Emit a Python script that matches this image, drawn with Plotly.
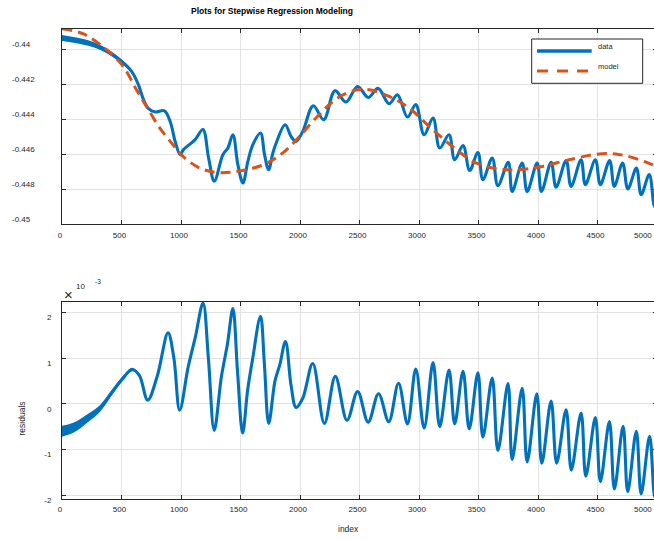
import numpy as np
import plotly.graph_objects as go

# ---------------- data ----------------
# Measured signal (sample index vs. value)
data_idx = [0, 220, 360, 500, 585, 642, 685, 727, 783, 860, 909, 951, 993, 1021, 1119,
            1184, 1232, 1280, 1352, 1394, 1436, 1478, 1520, 1562, 1604, 1668, 1702, 1736,
            1772, 1800, 1875, 1925, 1967, 2023, 2112, 2199, 2294, 2386, 2484, 2573, 2656,
            2749, 2819, 2903, 2973, 3043, 3118, 3174, 3252, 3300, 3370, 3426, 3495, 3537,
            3615, 3663, 3750, 3783, 3867, 3909, 3993, 4029, 4110, 4152, 4236, 4278, 4362,
            4398, 4482, 4524, 4602, 4641, 4711, 4755, 4827, 4867, 4935, 4980, 5000]
data_val = [-0.43937, -0.43966, -0.44004, -0.44071, -0.44128, -0.44204, -0.44290, -0.44341,
            -0.44360, -0.44353, -0.44414, -0.44528, -0.44604, -0.44575, -0.44518, -0.44460,
            -0.44623, -0.44755, -0.44604, -0.44566, -0.44490, -0.44661, -0.44766, -0.44642,
            -0.44547, -0.44480, -0.44604, -0.44690, -0.44594, -0.44537, -0.44433, -0.44500,
            -0.44528, -0.44471, -0.44324, -0.44404, -0.44238, -0.44303, -0.44214, -0.44277,
            -0.44225, -0.44313, -0.44261, -0.44389, -0.44318, -0.44490, -0.44394, -0.44566,
            -0.44490, -0.44633, -0.44551, -0.44694, -0.44591, -0.44747, -0.44623, -0.44781,
            -0.44648, -0.44814, -0.44651, -0.44814, -0.44651, -0.44814, -0.44648, -0.44790,
            -0.44637, -0.44785, -0.44633, -0.44775, -0.44633, -0.44775, -0.44637, -0.44785,
            -0.44651, -0.44800, -0.44680, -0.44833, -0.44718, -0.44900, -0.44880]
# Half-thickness of the noise band on the first samples of the signal
data_noise = [0.00017, 0.00016, 0.00014, 0.00012, 0.00011, 0.00010]

# Stepwise regression model
model_idx = [0, 180, 374, 514, 626, 710, 821, 933, 1017, 1157, 1297, 1436, 1576, 1716,
             1856, 1996, 2140, 2316, 2484, 2584, 2749, 2917, 3085, 3281, 3477, 3673, 3841,
             4037, 4261, 4541, 4738, 4962, 5000]
model_val = [-0.43884, -0.43914, -0.44004, -0.44099, -0.44233, -0.44328, -0.44451, -0.44547,
             -0.44614, -0.44680, -0.44705, -0.44703, -0.44686, -0.44655, -0.44594, -0.44500,
             -0.44390, -0.44280, -0.44233, -0.44233, -0.44271, -0.44337, -0.44442, -0.44557,
             -0.44651, -0.44686, -0.44690, -0.44671, -0.44633, -0.44598, -0.44610, -0.44661,
             -0.44672]

# Residuals (data - model), in units of 1e-3
resid_idx = [0, 100, 220, 320, 420, 500, 590, 650, 720, 800, 891, 940, 989, 1060, 1120,
             1185, 1230, 1279, 1340, 1390, 1436, 1475, 1518, 1560, 1600, 1668, 1700, 1737,
             1790, 1830, 1878, 1925, 1967, 2023, 2107, 2205, 2297, 2395, 2484, 2573, 2660,
             2746, 2828, 2903, 2973, 3043, 3118, 3174, 3252, 3300, 3370, 3422, 3495, 3537,
             3615, 3663, 3748, 3783, 3867, 3909, 3990, 4032, 4110, 4157, 4236, 4280, 4362,
             4402, 4482, 4524, 4600, 4642, 4715, 4754, 4826, 4867, 4938, 4982, 5000]
resid_e3 = [-0.60, -0.52, -0.31, -0.10, 0.25, 0.52, 0.75, 0.62, 0.08, 0.60, 1.55, 1.00,
            -0.14, 0.80, 1.45, 2.20, 1.00, -0.58, 0.60, 1.30, 2.08, 0.70, -0.64, 0.30, 0.95,
            1.91, 0.90, -0.43, 0.50, 0.85, 1.36, 0.40, -0.08, 0.12, 0.88, -0.43, 0.60, -0.36,
            0.27, -0.40, 0.22, -0.39, 0.45, -0.44, 0.76, -0.53, 0.90, -0.50, 0.74, -0.44,
            0.71, -0.55, 0.68, -0.73, 0.56, -1.02, 0.44, -1.22, 0.34, -1.27, 0.22, -1.30,
            0.06, -1.30, -0.13, -1.45, -0.20, -1.58, -0.30, -1.70, -0.39, -1.86, -0.49,
            -1.92, -0.60, -1.97, -0.71, -2.04, -1.92]
# Half-thickness of the noise band on the first residual samples (1e-3)
resid_noise_e3 = [0.12, 0.11, 0.09, 0.075, 0.06, 0.05, 0.04, 0.0]

x_ticks = list(range(0, 5001, 500))
x_tick_labels = [str(v) for v in x_ticks]
top_y_ticks = [-0.45, -0.448, -0.446, -0.444, -0.442, -0.44]
top_y_labels = ["-0.45", "-0.448", "-0.446", "-0.444", "-0.442", "-0.44"]
res_y_ticks_e3 = [-2, -1, 0, 1, 2]

# ---------------- style ----------------
BLUE = "#0072BD"
ORANGE = "#D95319"
AX = "#262626"
GRID = "#e2e2e2"
FONT = "Liberation Sans, Arial, Helvetica, sans-serif"

W, H = 660, 540
L, R, T, B = 62, 3, 29, 41
PW, PH = W - L - R, H - T - B
VIEW_W = 654  # visible page width


def px(xp):
    return (xp - L) / PW


def py(yp):
    return (H - B - yp) / PH


top_dom = [py(224), 1.0]
bot_dom = [0.0, py(302)]

fig = go.Figure()

# ---- upper panel: data and model ----
n1 = len(data_noise)
lo = [v - h for v, h in zip(data_val[:n1], data_noise)]
hi = [v + h for v, h in zip(data_val[:n1], data_noise)]
fig.add_trace(go.Scatter(x=data_idx[:n1], y=lo, mode="lines", line=dict(width=0, shape="spline"),
                         hoverinfo="skip", showlegend=False, xaxis="x", yaxis="y"))
fig.add_trace(go.Scatter(x=data_idx[:n1], y=hi, mode="lines", line=dict(width=0, shape="spline"),
                         fill="tonexty", fillcolor=BLUE, hoverinfo="skip", showlegend=False,
                         xaxis="x", yaxis="y"))
fig.add_trace(go.Scatter(x=data_idx, y=data_val, mode="lines", name="data",
                         line=dict(color=BLUE, width=3.1, shape="spline"),
                         showlegend=False, xaxis="x", yaxis="y"))
fig.add_trace(go.Scatter(x=model_idx, y=model_val, mode="lines", name="model",
                         line=dict(color=ORANGE, width=3, dash="10px,6px", shape="spline"),
                         showlegend=False, xaxis="x", yaxis="y"))

# ---- lower panel: residuals ----
res = np.array(resid_e3) * 1e-3
n2 = len(resid_noise_e3)
rlo = (np.array(resid_e3[:n2]) - np.array(resid_noise_e3)) * 1e-3
rhi = (np.array(resid_e3[:n2]) + np.array(resid_noise_e3)) * 1e-3
fig.add_trace(go.Scatter(x=resid_idx[:n2], y=rlo, mode="lines", line=dict(width=0, shape="spline"),
                         hoverinfo="skip", showlegend=False, xaxis="x2", yaxis="y2"))
fig.add_trace(go.Scatter(x=resid_idx[:n2], y=rhi, mode="lines", line=dict(width=0, shape="spline"),
                         fill="tonexty", fillcolor=BLUE, hoverinfo="skip", showlegend=False,
                         xaxis="x2", yaxis="y2"))
fig.add_trace(go.Scatter(x=resid_idx, y=res, mode="lines", name="residuals",
                         line=dict(color=BLUE, width=3.1, shape="spline"),
                         showlegend=False, xaxis="x2", yaxis="y2"))

axis_common = dict(showline=True, linecolor=AX, linewidth=1, mirror="ticks",
                   ticks="inside", ticklen=4, tickwidth=1, tickcolor=AX,
                   showgrid=True, gridcolor=GRID, gridwidth=1, zeroline=False,
                   tickfont=dict(family=FONT, size=8, color=AX))

# the last x label sits at the page edge; it is drawn separately so it stays readable
shown_x_labels = x_tick_labels[:-1] + [""]

fig.update_layout(
    width=W, height=H, autosize=False,
    margin=dict(l=L, r=R, t=T, b=B, pad=0),
    paper_bgcolor="white", plot_bgcolor="white",
    showlegend=False,
    xaxis=dict(axis_common, domain=[0, 1], range=[0, 5000], tickvals=x_ticks,
               ticktext=shown_x_labels, anchor="y", ticklabelshift=-2, ticklabelstandoff=3),
    yaxis=dict(axis_common, domain=top_dom, range=[-0.45, -0.45 + 195 / 17500],
               tickvals=top_y_ticks, showticklabels=False, anchor="x"),
    xaxis2=dict(axis_common, domain=[0, 1], range=[0, 5000], tickvals=x_ticks,
                ticktext=shown_x_labels, anchor="y2", ticklabelshift=-2, ticklabelstandoff=2),
    yaxis2=dict(axis_common, domain=bot_dom, range=[-2.081e-3, 2.225e-3],
                tickvals=[v * 1e-3 for v in res_y_ticks_e3],
                ticktext=[str(v) for v in res_y_ticks_e3],
                anchor="x2", ticklabelshift=5, ticklabelstandoff=8),
)

ann = []
# upper panel y tick labels (left aligned)
for v, lab in zip(top_y_ticks, top_y_labels):
    ann.append(dict(x=px(10), y=v, xref="paper", yref="y", text=lab, showarrow=False,
                    xanchor="left", yanchor="middle", yshift=5,
                    font=dict(family=FONT, size=8, color=AX)))

# last x tick label of each panel, kept inside the visible page
for yl in (235.5, 509.5):
    ann.append(dict(x=px(VIEW_W - 0.5), y=py(yl), xref="paper", yref="paper",
                    text=x_tick_labels[-1], showarrow=False, xanchor="right", yanchor="middle",
                    font=dict(family=FONT, size=8, color=AX)))

# title
ann.append(dict(x=px(272), y=py(11), xref="paper", yref="paper",
                text="<b>Plots for Stepwise Regression Modeling</b>", showarrow=False,
                xanchor="center", yanchor="middle", font=dict(family=FONT, size=8.5, color="black")))

# exponent marker for the residual axis
ann.append(dict(x=px(68.5), y=py(294), xref="paper", yref="paper", text="\u00d7", showarrow=False,
                xanchor="center", yanchor="middle", font=dict(family=FONT, size=15, color=AX)))
ann.append(dict(x=px(80), y=py(286), xref="paper", yref="paper", text="10", showarrow=False,
                xanchor="center", yanchor="middle", font=dict(family=FONT, size=8, color=AX)))
ann.append(dict(x=px(97.5), y=py(281), xref="paper", yref="paper", text="-3", showarrow=False,
                xanchor="center", yanchor="middle", font=dict(family=FONT, size=6.5, color=AX)))

# axis titles
ann.append(dict(x=px(21.5), y=py(419), xref="paper", yref="paper", text="residuals", showarrow=False,
                textangle=-90, xanchor="center", yanchor="middle",
                font=dict(family=FONT, size=8.5, color=AX)))
ann.append(dict(x=px(348.5), y=py(529), xref="paper", yref="paper", text="index", showarrow=False,
                xanchor="center", yanchor="middle", font=dict(family=FONT, size=8.5, color=AX)))

# legend text
ann.append(dict(x=px(596), y=py(46.7), xref="paper", yref="paper", text="data", showarrow=False,
                xanchor="left", yanchor="middle", font=dict(family=FONT, size=7.5, color=AX)))
ann.append(dict(x=px(596), y=py(66.7), xref="paper", yref="paper", text="model", showarrow=False,
                xanchor="left", yanchor="middle", font=dict(family=FONT, size=7.5, color=AX)))

shapes = [
    dict(type="rect", xref="paper", yref="paper", x0=px(531.7), x1=px(642.7), y0=py(83.3), y1=py(39),
         line=dict(color=AX, width=1), fillcolor="white", layer="above"),
    dict(type="line", xref="paper", yref="paper", x0=px(537), x1=px(591.7), y0=py(51), y1=py(51),
         line=dict(color=BLUE, width=3.5), layer="above"),
    dict(type="line", xref="paper", yref="paper", x0=px(537), x1=px(591.7), y0=py(71), y1=py(71),
         line=dict(color=ORANGE, width=3, dash="11px,9px"), layer="above"),
]

fig.update_layout(annotations=ann, shapes=shapes)

fig.write_html("out.html",
               post_script="document.documentElement.style.overflow='hidden';"
                           "document.body.style.overflow='hidden';")
